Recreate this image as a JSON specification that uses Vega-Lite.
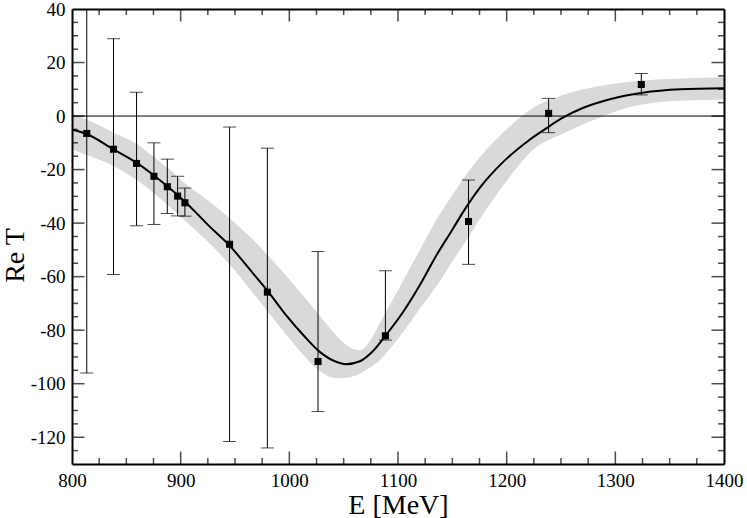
{
 "$schema": "https://vega.github.io/schema/vega-lite/v6.json",
 "width": 652,
 "height": 455,
 "autosize": "none",
 "padding": {"left": 72, "top": 9, "right": 23, "bottom": 54},
 "background": "white",
 "config": {
  "view": {"stroke": null},
  "axis": {"grid": false, "labelFont": "Liberation Serif", "titleFont": "Liberation Serif", "labelFontSize": 19, "titleFontSize": 28, "titleFontWeight": "normal", "labelColor": "black", "titleColor": "black", "domainColor": "black", "labelFlush": false, "labelOverlap": false}
 },
 "datasets": {
  "curve": [
   {"E": 800, "v": -5}, {"E": 814, "v": -6.8}, {"E": 838, "v": -12.4}, {"E": 860, "v": -17.6}, {"E": 876, "v": -22.4},
   {"E": 904, "v": -32}, {"E": 927, "v": -41.4}, {"E": 945, "v": -48.4}, {"E": 966, "v": -58.5}, {"E": 980, "v": -65.3},
   {"E": 997, "v": -74.4}, {"E": 1013, "v": -81.9}, {"E": 1028, "v": -88.1}, {"E": 1043, "v": -91.8}, {"E": 1052, "v": -92.7},
   {"E": 1065, "v": -91.6}, {"E": 1077, "v": -87.8}, {"E": 1088, "v": -82.3}, {"E": 1105, "v": -73}, {"E": 1120, "v": -63.2},
   {"E": 1135, "v": -52.3}, {"E": 1151, "v": -41.8}, {"E": 1160, "v": -35.8}, {"E": 1170, "v": -29.7}, {"E": 1180, "v": -24.4},
   {"E": 1190, "v": -19.9}, {"E": 1200, "v": -15.9}, {"E": 1210, "v": -12.4}, {"E": 1220, "v": -9.2}, {"E": 1235, "v": -5},
   {"E": 1250, "v": -1}, {"E": 1270, "v": 3}, {"E": 1295, "v": 6.3}, {"E": 1325, "v": 8.7}, {"E": 1360, "v": 10},
   {"E": 1400, "v": 10.4}
  ],
  "band": [
   {"E": 800, "upper": 1, "lower": -12.5}, {"E": 820, "upper": -2.5, "lower": -15.5}, {"E": 840, "upper": -6.5, "lower": -19},
   {"E": 860, "upper": -10.5, "lower": -24}, {"E": 876, "upper": -15.5, "lower": -29}, {"E": 890, "upper": -20, "lower": -34},
   {"E": 905, "upper": -25.5, "lower": -39.5}, {"E": 925, "upper": -31.5, "lower": -47}, {"E": 944, "upper": -37.8, "lower": -55},
   {"E": 955, "upper": -41.8, "lower": -60.2}, {"E": 966, "upper": -46, "lower": -65.8}, {"E": 981, "upper": -52.4, "lower": -73.5},
   {"E": 997, "upper": -59.6, "lower": -81.6}, {"E": 1013, "upper": -67.2, "lower": -89.3}, {"E": 1022, "upper": -71.6, "lower": -93.2},
   {"E": 1034, "upper": -77.6, "lower": -96.8}, {"E": 1046, "upper": -83.2, "lower": -98}, {"E": 1056, "upper": -86.5, "lower": -97.6},
   {"E": 1065, "upper": -87.5, "lower": -96.2}, {"E": 1075, "upper": -83.5, "lower": -93.8}, {"E": 1083, "upper": -77.5, "lower": -91.3},
   {"E": 1094, "upper": -69.5, "lower": -86.3}, {"E": 1105, "upper": -61.3, "lower": -80.5}, {"E": 1120, "upper": -50.1, "lower": -72},
   {"E": 1135, "upper": -38.9, "lower": -63.8}, {"E": 1151, "upper": -28.9, "lower": -53.7}, {"E": 1166, "upper": -20.2, "lower": -44.5},
   {"E": 1181, "upper": -12.7, "lower": -35}, {"E": 1191, "upper": -8.5, "lower": -29.2}, {"E": 1214, "upper": 0, "lower": -17},
   {"E": 1221, "upper": 2.2, "lower": -13.8}, {"E": 1252, "upper": 7.9, "lower": -6.5}, {"E": 1283, "upper": 11, "lower": -1},
   {"E": 1313, "upper": 12.8, "lower": 3.3}, {"E": 1323, "upper": 13.2, "lower": 4.2}, {"E": 1360, "upper": 14, "lower": 5.7},
   {"E": 1400, "upper": 14.5, "lower": 6.2}
  ],
  "pts": [
   {"E": 813.6, "y": -6.5, "lo": -96, "hi": 82.5},
   {"E": 838.2, "y": -12.4, "lo": -59.2, "hi": 28.9},
   {"E": 859.4, "y": -17.7, "lo": -41, "hi": 8.9},
   {"E": 875.4, "y": -22.5, "lo": -40.5, "hi": -10},
   {"E": 887.7, "y": -26.4, "lo": -36.4, "hi": -16.1},
   {"E": 897.2, "y": -29.9, "lo": -37.3, "hi": -22.5},
   {"E": 903.9, "y": -32.4, "lo": -37.4, "hi": -26.9},
   {"E": 945, "y": -47.9, "lo": -121.6, "hi": -4.1},
   {"E": 979.8, "y": -65.8, "lo": -124, "hi": -12},
   {"E": 1026.4, "y": -91.7, "lo": -110.4, "hi": -50.6},
   {"E": 1088.4, "y": -82.1, "lo": -83.7, "hi": -57.8},
   {"E": 1164.9, "y": -39.4, "lo": -55.4, "hi": -23.9},
   {"E": 1238.6, "y": 1.0, "lo": -6.2, "hi": 6.6},
   {"E": 1323.9, "y": 11.8, "lo": 7.9, "hi": 15.9}
  ],
  "xmajor": [{"t": 900}, {"t": 1000}, {"t": 1100}, {"t": 1200}, {"t": 1300}],
  "xminor": [{"t": 825}, {"t": 850}, {"t": 875}, {"t": 925}, {"t": 950}, {"t": 975}, {"t": 1025}, {"t": 1050}, {"t": 1075},
   {"t": 1125}, {"t": 1150}, {"t": 1175}, {"t": 1225}, {"t": 1250}, {"t": 1275}, {"t": 1325}, {"t": 1350}, {"t": 1375}],
  "ymajor": [{"t": -120}, {"t": -100}, {"t": -80}, {"t": -60}, {"t": -40}, {"t": -20}, {"t": 0}, {"t": 20}],
  "yminor": [{"t": -125}, {"t": -115}, {"t": -110}, {"t": -105}, {"t": -95}, {"t": -90}, {"t": -85}, {"t": -75}, {"t": -70},
   {"t": -65}, {"t": -55}, {"t": -50}, {"t": -45}, {"t": -35}, {"t": -30}, {"t": -25}, {"t": -15}, {"t": -10}, {"t": -5},
   {"t": 5}, {"t": 10}, {"t": 15}, {"t": 25}, {"t": 30}, {"t": 35}]
 },
 "resolve": {"axis": {"x": "independent", "y": "independent"}},
 "layer": [
  {
   "data": {"name": "band"},
   "mark": {"type": "area", "color": "#d9d9d9", "interpolate": "monotone"},
   "encoding": {
    "x": {"field": "E", "type": "quantitative", "scale": {"domain": [800, 1400], "nice": false, "zero": false},
     "axis": {"orient": "bottom", "values": [800, 900, 1000, 1100, 1200, 1300, 1400], "labelExpr": "'' + datum.value", "ticks": false, "domain": true, "domainWidth": 2, "zindex": 1, "labelPadding": 7, "title": "E [MeV]", "titleBaseline": "alphabetic", "titleY": 49}},
    "y": {"field": "upper", "type": "quantitative", "scale": {"domain": [-130, 40], "nice": false, "zero": false},
     "axis": {"orient": "left", "values": [40, 20, 0, -20, -40, -60, -80, -100, -120], "labelExpr": "'' + datum.value", "ticks": false, "domain": true, "domainWidth": 2, "zindex": 1, "labelPadding": 7, "title": "Re T", "titleX": -49, "titleY": 246, "titleBaseline": "alphabetic"}},
    "y2": {"field": "lower"}
   }
  },
  {
   "data": {"values": [{}]},
   "mark": {"type": "rule", "color": "black", "strokeWidth": 1},
   "encoding": {"y": {"datum": 0, "type": "quantitative", "axis": null}}
  },
  {
   "data": {"name": "curve"},
   "mark": {"type": "line", "color": "black", "strokeWidth": 2, "interpolate": "monotone"},
   "encoding": {
    "x": {"field": "E", "type": "quantitative", "axis": null},
    "y": {"field": "v", "type": "quantitative", "axis": null}
   }
  },
  {
   "data": {"name": "pts"},
   "mark": {"type": "rule", "color": "black", "strokeWidth": 1, "clip": true},
   "encoding": {
    "x": {"field": "E", "type": "quantitative",
     "axis": {"orient": "top", "labels": false, "ticks": false, "title": null, "domain": true, "domainWidth": 2, "zindex": 1}},
    "y": {"field": "lo", "type": "quantitative",
     "axis": {"orient": "right", "labels": false, "ticks": false, "title": null, "domain": true, "domainWidth": 2, "zindex": 1}},
    "y2": {"field": "hi"}
   }
  },
  {
   "data": {"name": "pts"},
   "mark": {"type": "tick", "color": "black", "orient": "horizontal", "size": 13, "thickness": 1, "clip": true},
   "encoding": {
    "x": {"field": "E", "type": "quantitative", "axis": null},
    "y": {"field": "lo", "type": "quantitative", "axis": null}
   }
  },
  {
   "data": {"name": "pts"},
   "mark": {"type": "tick", "color": "black", "orient": "horizontal", "size": 13, "thickness": 1, "clip": true},
   "encoding": {
    "x": {"field": "E", "type": "quantitative", "axis": null},
    "y": {"field": "hi", "type": "quantitative", "axis": null}
   }
  },
  {
   "data": {"name": "pts"},
   "mark": {"type": "point", "shape": "square", "filled": true, "color": "black", "size": 50, "opacity": 1},
   "encoding": {
    "x": {"field": "E", "type": "quantitative", "axis": null},
    "y": {"field": "y", "type": "quantitative", "axis": null}
   }
  },
  {
   "data": {"name": "xmajor"},
   "mark": {"type": "tick", "color": "black", "orient": "vertical", "size": 25, "thickness": 1.5, "clip": true},
   "encoding": {"x": {"field": "t", "type": "quantitative", "axis": null}, "y": {"datum": -130, "type": "quantitative", "axis": null}}
  },
  {
   "data": {"name": "xmajor"},
   "mark": {"type": "tick", "color": "black", "orient": "vertical", "size": 25, "thickness": 1.5, "clip": true},
   "encoding": {"x": {"field": "t", "type": "quantitative", "axis": null}, "y": {"datum": 40, "type": "quantitative", "axis": null}}
  },
  {
   "data": {"name": "xminor"},
   "mark": {"type": "tick", "color": "black", "orient": "vertical", "size": 12, "thickness": 1.5, "clip": true},
   "encoding": {"x": {"field": "t", "type": "quantitative", "axis": null}, "y": {"datum": -130, "type": "quantitative", "axis": null}}
  },
  {
   "data": {"name": "xminor"},
   "mark": {"type": "tick", "color": "black", "orient": "vertical", "size": 12, "thickness": 1.5, "clip": true},
   "encoding": {"x": {"field": "t", "type": "quantitative", "axis": null}, "y": {"datum": 40, "type": "quantitative", "axis": null}}
  },
  {
   "data": {"name": "ymajor"},
   "mark": {"type": "tick", "color": "black", "orient": "horizontal", "size": 25, "thickness": 1.5, "clip": true},
   "encoding": {"y": {"field": "t", "type": "quantitative", "axis": null}, "x": {"datum": 800, "type": "quantitative", "axis": null}}
  },
  {
   "data": {"name": "ymajor"},
   "mark": {"type": "tick", "color": "black", "orient": "horizontal", "size": 25, "thickness": 1.5, "clip": true},
   "encoding": {"y": {"field": "t", "type": "quantitative", "axis": null}, "x": {"datum": 1400, "type": "quantitative", "axis": null}}
  },
  {
   "data": {"name": "yminor"},
   "mark": {"type": "tick", "color": "black", "orient": "horizontal", "size": 12, "thickness": 1.5, "clip": true},
   "encoding": {"y": {"field": "t", "type": "quantitative", "axis": null}, "x": {"datum": 800, "type": "quantitative", "axis": null}}
  },
  {
   "data": {"name": "yminor"},
   "mark": {"type": "tick", "color": "black", "orient": "horizontal", "size": 12, "thickness": 1.5, "clip": true},
   "encoding": {"y": {"field": "t", "type": "quantitative", "axis": null}, "x": {"datum": 1400, "type": "quantitative", "axis": null}}
  }
 ]
}
